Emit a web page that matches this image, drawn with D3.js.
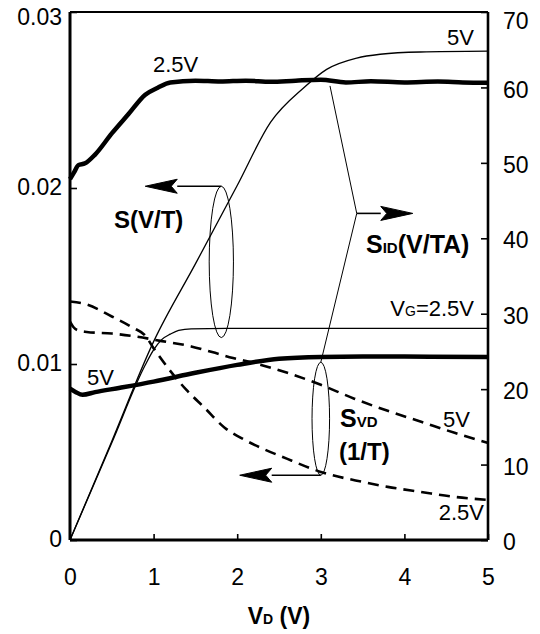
<!DOCTYPE html>
<html>
<head>
<meta charset="utf-8">
<script src="https://cdn.jsdelivr.net/npm/d3@7"></script>
<style>
  body { margin: 0; background: #fff; }
  svg { display: block; }
  text { font-family: "Liberation Sans", Arial, sans-serif; fill: #000; }
</style>
</head>
<body>
<svg id="chart" width="540" height="634"></svg>
<script>
// Drain voltage ticks and the two vertical scales
const xTicks = [0, 1, 2, 3, 4, 5];
const leftTicks = [0, 0.01, 0.02, 0.03];
const rightTicks = [0, 10, 20, 30, 40, 50, 60, 70];

// S (V/T) — Hall sensitivity, left axis, thick solid
const sens25 = [[0,0.0205],[0.05,0.0209],[0.1,0.0213],[0.18,0.0214],[0.3,0.0219],[0.5,0.0231],[0.7,0.0242],
  [0.9,0.0253],[1.05,0.0257],[1.2,0.0260],[1.5,0.0261],[1.8,0.02605],[2.1,0.0261],[2.4,0.02603],[2.7,0.0261],
  [3.0,0.02615],[3.3,0.0260],[3.6,0.02606],[4.0,0.0260],[4.4,0.02605],[4.7,0.0260],[5.0,0.02598]];
const sens5 = [[0,0.0086],[0.07,0.0084],[0.15,0.00825],[0.3,0.0084],[0.6,0.00865],[1.0,0.0090],[1.5,0.0095],
  [2.0,0.00995],[2.5,0.0103],[3.0,0.0104],[3.5,0.01042],[4.0,0.01042],[5.0,0.0104]];

// S_ID (V/TA) — current-related sensitivity, right axis, thin solid
const sid25 = [[0,0],[0.5,12.9],[0.9,23.2],[1.0,25.2],[1.1,26.6],[1.2,27.3],[1.3,27.8],[1.45,28.0],
  [2,28.05],[3,28.05],[4,28.05],[5,28.05]];
const sid5 = [[0,0],[0.5,13.1],[1.0,26.3],[1.5,36.6],[2.0,47.0],[2.4,55.4],[2.8,60.0],[3.07,62.4],
  [3.43,63.9],[3.71,64.4],[4.19,64.7],[5,64.8]];

// S_VD (1/T) — voltage-related sensitivity, left axis, dashed
const svd25 = [[0,0.01355],[0.2,0.01338],[0.5,0.0127],[0.75,0.01207],[0.9,0.01161],[1.0,0.0109],[1.16,0.00985],
  [1.39,0.00854],[1.61,0.00751],[1.85,0.00638],[2.09,0.00569],[2.6,0.00461],[3.0,0.00387],[3.5,0.0033],
  [3.8,0.00302],[4.2,0.00273],[4.6,0.00245],[5.0,0.00228]];
const svd5 = [[0,0.0124],[0.04,0.0121],[0.1,0.0119],[0.2,0.01182],[0.5,0.01173],[0.8,0.01155],[1.1,0.0113],
  [1.45,0.0110],[1.7,0.01068],[1.95,0.01034],[2.2,0.01006],[2.6,0.0095],[3.0,0.00882],[3.4,0.00803],
  [3.8,0.00734],[4.2,0.00672],[4.6,0.00609],[5.0,0.00552]];

const svg = d3.select("#chart");
const x = d3.scaleLinear().domain([0, 5]).range([70, 488]);
const yL = d3.scaleLinear().domain([0, 0.03]).range([540, 12]);
const yR = d3.scaleLinear().domain([0, 70]).range([540, 12]);

// axes with inward ticks
const fmtL = d => d === 0 ? "0" : d3.format(".2f")(d);
const gL = svg.append("g").attr("transform", "translate(70,0)")
  .call(d3.axisLeft(yL).tickValues(leftTicks).tickFormat(fmtL).tickSizeInner(-7).tickSizeOuter(0).tickPadding(8));
const gR = svg.append("g").attr("transform", "translate(488,0)")
  .call(d3.axisRight(yR).tickValues(rightTicks).tickSizeInner(-7).tickSizeOuter(0).tickPadding(15));
const gB = svg.append("g").attr("transform", "translate(0,540)")
  .call(d3.axisBottom(x).tickValues(xTicks).tickFormat(d3.format("d")).tickSizeInner(-6).tickSizeOuter(0).tickPadding(29));
[gL, gR, gB].forEach(g => {
  g.select(".domain").remove();
  g.selectAll(".tick line").attr("stroke", "#000").attr("stroke-width", 1.6);
  g.selectAll("text").attr("font-size", 23).attr("font-family", "'Liberation Sans', Arial, sans-serif").attr("fill", "#000");
});
gL.selectAll("text").attr("dy", d => d === 0.03 ? "0.55em" : "0.3em");
gR.selectAll("text").attr("dy", d => d === 70 ? "0.72em" : "0.42em");

// frame
const frame = svg.append("g").attr("stroke", "#000").attr("fill", "none");
frame.append("line").attr("x1", x(0)).attr("x2", x(5)).attr("y1", yL(0.03)).attr("y2", yL(0.03)).attr("stroke-width", 2.2);
frame.append("line").attr("x1", x(0)).attr("x2", x(5)).attr("y1", yL(0)).attr("y2", yL(0)).attr("stroke-width", 3);
frame.append("line").attr("x1", x(0)).attr("x2", x(0)).attr("y1", yL(0)).attr("y2", yL(0.03)).attr("stroke-width", 3);
frame.append("line").attr("x1", x(5)).attr("x2", x(5)).attr("y1", yL(0)).attr("y2", yL(0.03)).attr("stroke-width", 2.6);

// curves
const lineL = d3.line().x(d => x(d[0])).y(d => yL(d[1])).curve(d3.curveMonotoneX);
const lineR = d3.line().x(d => x(d[0])).y(d => yR(d[1])).curve(d3.curveMonotoneX);
const curves = svg.append("g").attr("fill", "none").attr("stroke", "#000").attr("stroke-linejoin", "round");
curves.append("path").attr("d", lineR(sid5)).attr("stroke-width", 1.3);
curves.append("path").attr("d", lineR(sid25)).attr("stroke-width", 1.3);
curves.append("path").attr("d", lineL(svd25)).attr("stroke-width", 2.6).attr("stroke-dasharray", "11,7");
curves.append("path").attr("d", lineL(svd5)).attr("stroke-width", 2.6).attr("stroke-dasharray", "11,7");
curves.append("path").attr("d", lineL(sens25)).attr("stroke-width", 4.5);
curves.append("path").attr("d", lineL(sens5)).attr("stroke-width", 4.5);

// callouts: ellipses, leader lines and arrows
const ann = svg.append("g").attr("stroke", "#000").attr("fill", "none");
function arrow(x1, y, xTip) {
  const dir = Math.sign(xTip - x1), head = 32, hw = 7;
  ann.append("line").attr("x1", x1).attr("x2", xTip - dir * head).attr("y1", y).attr("y2", y).attr("stroke-width", 1.6);
  ann.append("path").attr("d", `M${xTip},${y} L${xTip - dir * head},${y - hw} L${xTip - dir * (head - 6)},${y} L${xTip - dir * head},${y + hw} Z`)
    .attr("fill", "#000").attr("stroke", "#000").attr("stroke-width", 1);
}
// S(V/T) group
const e1 = {v: 1.81, top: 0.0201, bottom: 0.0115, dv: 0.145};
ann.append("ellipse").attr("cx", x(e1.v)).attr("cy", (yL(e1.top) + yL(e1.bottom)) / 2)
  .attr("rx", x(e1.dv) - x(0)).attr("ry", (yL(e1.bottom) - yL(e1.top)) / 2).attr("stroke-width", 1);
arrow(x(e1.v), yL(e1.top), x(0.9));
// S_VD group
const e2 = {v: 3.0, top: 0.0101, bottom: 0.00368, dv: 0.105};
ann.append("ellipse").attr("cx", x(e2.v)).attr("cy", (yL(e2.top) + yL(e2.bottom)) / 2)
  .attr("rx", x(e2.dv) - x(0)).attr("ry", (yL(e2.bottom) - yL(e2.top)) / 2).attr("stroke-width", 1);
arrow(x(e2.v), yL(e2.bottom), x(2.03));
// S_ID leader: from the 2.5 V saturation down to the second group, with arrow to the right axis
const vtx = [x(3.43), yR(43.3)];
ann.append("path").attr("d", `M${x(3.11)},${yL(0.0258)} L${vtx[0]},${vtx[1]} L${x(e2.v)},${yL(e2.top)}`).attr("stroke-width", 1);
arrow(vtx[0], vtx[1], x(4.1));

// labels
function label(tx, ty, parts, opts = {}) {
  const t = svg.append("text").attr("x", tx).attr("y", ty).attr("font-size", opts.size || 22)
    .attr("font-weight", opts.bold ? "bold" : "normal").attr("text-anchor", opts.anchor || "start");
  parts.forEach(p => {
    const s = t.append("tspan").text(p[0]);
    if (p[1]) s.attr("font-size", p[1]);
  });
  return t;
}
label(153, 72, [["2.5V"]]);
label(447, 45, [["5V"]]);
label(114, 228, [["S(V/T)"]], {bold: true, size: 24});
label(366, 253, [["S"], ["ID", 15], ["(V/TA)"]], {bold: true, size: 25});
label(474, 316, [["V"], ["G", 14], ["=2.5V"]], {anchor: "end", size: 22});
label(87, 385, [["5V"]]);
label(340, 427, [["S"], ["VD", 15]], {bold: true, size: 25});
label(339, 460, [["(1/T)"]], {bold: true, size: 24});
label(443, 427, [["5V"]]);
label(484, 520, [["2.5V"]], {anchor: "end"});
label(279, 624, [["V"], ["D", 14], [" (V)"]], {anchor: "middle", bold: true, size: 23});
</script>
</body>
</html>
